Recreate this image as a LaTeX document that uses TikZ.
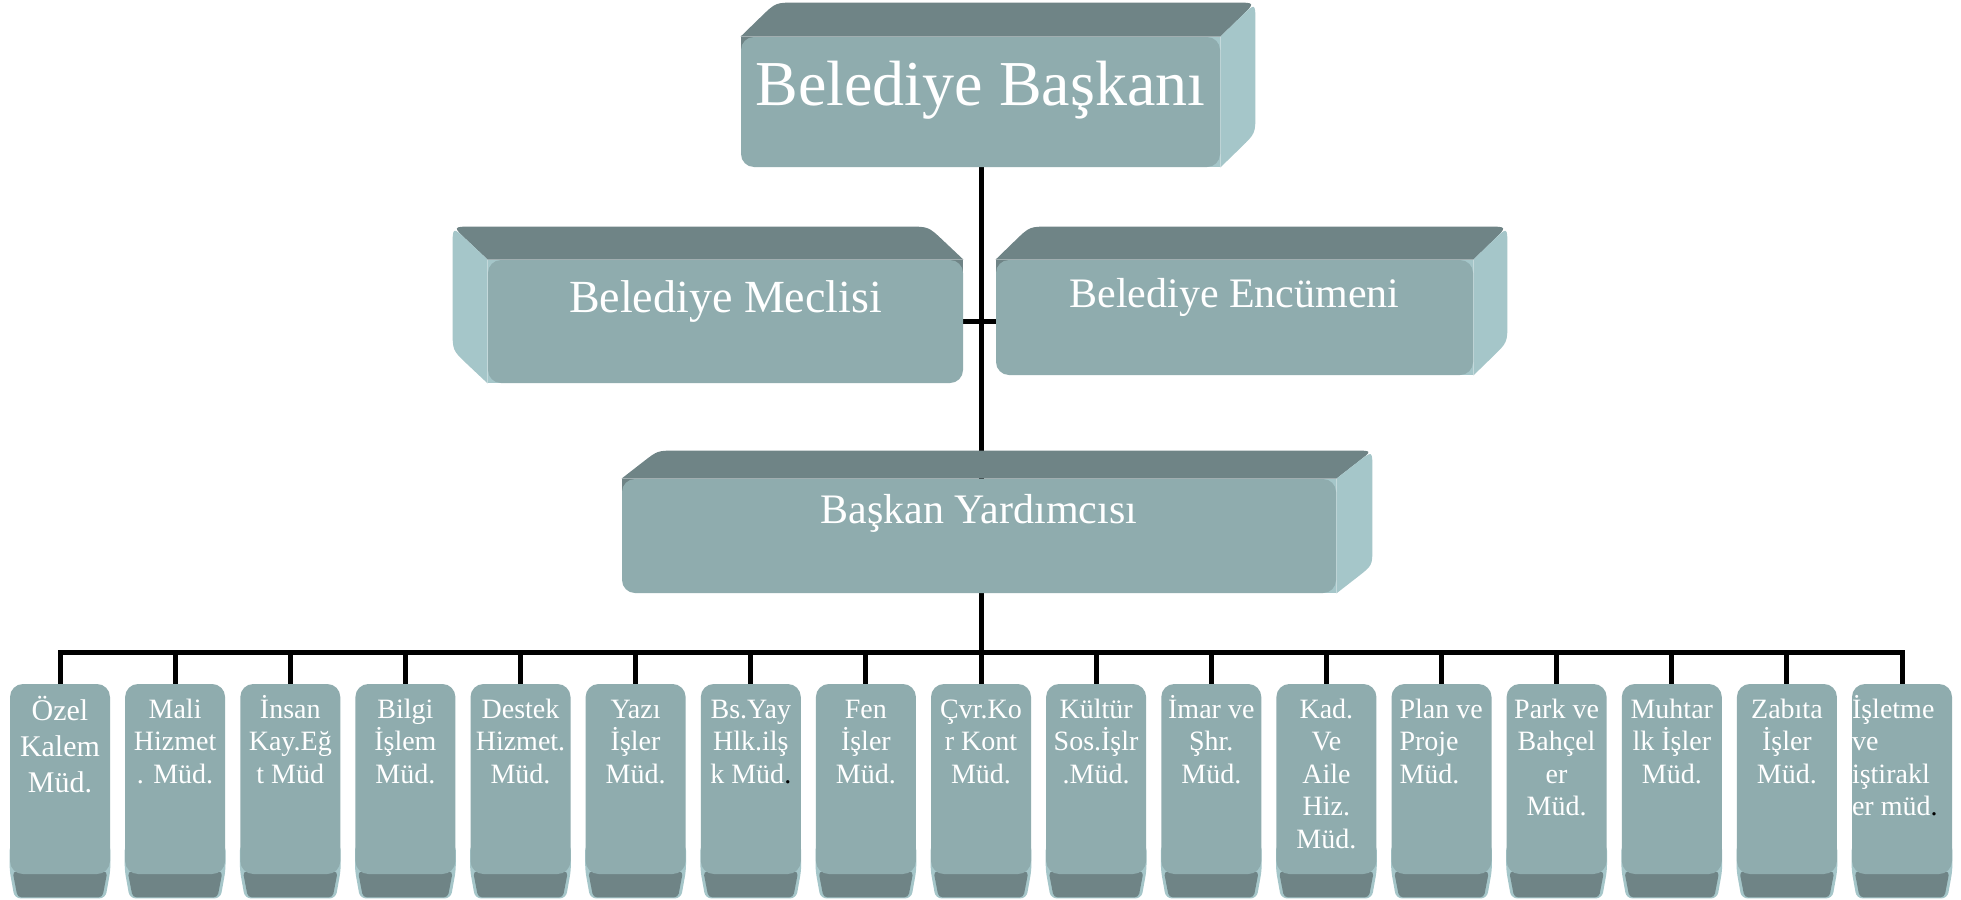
\documentclass[tikz,border=0pt]{standalone}
\usepackage{fontspec}
\setmainfont{Liberation Serif}
\usetikzlibrary{calc}
\definecolor{facec}{RGB}{143,172,174}
\definecolor{topc}{RGB}{111,132,134}
\definecolor{sidec}{RGB}{165,198,201}
\pgfdeclarelayer{bg}\pgfdeclarelayer{mid}\pgfsetlayers{bg,mid,main}
% 3D faces for a box extruded up-right: #1 node, #2 #3 offset, #4 corner size
\newcommand\myFacesR[4]{%
  \coordinate (#1-a) at ($(#1.north west)+(#2,#3)$);
  \coordinate (#1-b) at ($(#1.north east)+(#2,#3)$);
  \coordinate (#1-c) at ($(#1.south east)+(#2,#3)$);
  \fill[topc] (#1.north west) rectangle ++(14,14);
  \fill[sidec] (#1.north east) rectangle ++(-14,14);
  \fill[sidec] (#1.south east) rectangle ++(-14,-14);
  \fill[topc] (#1.north west) -- ($(#1-a)!#4!(#1.north west)$) .. controls (#1-a) .. ($(#1-a)!#4!(#1-b)$)
     -- ($(#1-b)!#4!(#1-a)$) .. controls (#1-b) .. ($(#1-b)!#4!(#1.north east)$) -- (#1.north east) -- cycle;
  \fill[sidec] (#1.north east) -- ($(#1-b)!#4!(#1.north east)$) .. controls (#1-b) .. ($(#1-b)!#4!(#1-c)$)
     -- ($(#1-c)!#4!(#1-b)$) .. controls (#1-c) .. ($(#1-c)!#4!(#1.south east)$) -- (#1.south east) -- cycle;}
% 3D faces for a box extruded up-left
\newcommand\myFacesL[4]{%
  \coordinate (#1-a) at ($(#1.north east)+(#2,#3)$);
  \coordinate (#1-b) at ($(#1.north west)+(#2,#3)$);
  \coordinate (#1-c) at ($(#1.south west)+(#2,#3)$);
  \fill[topc] (#1.north east) rectangle ++(-14,14);
  \fill[sidec] (#1.north west) rectangle ++(14,14);
  \fill[sidec] (#1.south west) rectangle ++(14,-14);
  \fill[topc] (#1.north east) -- ($(#1-a)!#4!(#1.north east)$) .. controls (#1-a) .. ($(#1-a)!#4!(#1-b)$)
     -- ($(#1-b)!#4!(#1-a)$) .. controls (#1-b) .. ($(#1-b)!#4!(#1.north west)$) -- (#1.north west) -- cycle;
  \fill[sidec] (#1.north west) -- ($(#1-b)!#4!(#1.north west)$) .. controls (#1-b) .. ($(#1-b)!#4!(#1-c)$)
     -- ($(#1-c)!#4!(#1-b)$) .. controls (#1-c) .. ($(#1-c)!#4!(#1.south west)$) -- (#1.south west) -- cycle;}
% bottom part of the small boxes
\newcommand\myBottom[1]{%
  \fill[sidec,rounded corners=3pt] ($(#1.south west)+(0,-30)$) -- ($(#1.south west)+(0,-4)$) -- ($(#1.south west)+(5,24)$) -- ($(#1.south east)+(-5,24)$) -- ($(#1.south east)+(0,-4)$) -- ($(#1.south east)+(0,-30)$) -- cycle;
  \fill[topc,rounded corners=2pt] ($(#1.south west)+(3,-3)$) -- ($(#1.south west)+(8,23)$) -- ($(#1.south east)+(-8,23)$) -- ($(#1.south east)+(-3,-3)$) -- cycle;}
\newcommand\mydir[2]{\parbox[c][95pt][t]{50pt}{\fontsize{14}{16.25}\selectfont#1\rule{0pt}{17pt}#2}}
\begin{document}
\begin{tikzpicture}[x=0.5pt,y=-0.5pt,
  boxfront/.style={fill=facec, rounded corners=6.5pt, inner sep=0pt, text=white},
  conn/.style={line width=2.5pt, black}]
\useasboundingbox (0,0) rectangle (1961,900);

% main boxes (front faces)
\node[boxfront] (bb) at (980.5,102) {\parbox[c][65pt][t]{239.5pt}{\fontsize{32}{38}\selectfont\centering\rule{0pt}{34pt}Belediye Başkanı}};
\node[boxfront] (mc) at (725.5,321.5) {\parbox[c][61.5pt][t]{237.5pt}{\fontsize{23}{27}\selectfont\centering\rule{0pt}{26pt}Belediye Meclisi}};
\node[boxfront] (en) at (1234.5,317.5) {\parbox[c][57.5pt][t]{238.5pt}{\fontsize{21}{25}\selectfont\centering\rule{0pt}{23.5pt}Belediye Encümeni}};
\node[boxfront] (by) at (979,536) {\parbox[c][57pt][t]{357pt}{\fontsize{21}{25}\selectfont\centering\rule{0pt}{22pt}Başkan Yardımcısı}};

% directorates
\node[boxfront] (d1) at (60,779) {\parbox[c][95pt][t]{50pt}{\fontsize{15}{18}\selectfont\centering\rule{0pt}{18pt}Özel\\Kalem\\Müd.}};
\node[boxfront] (d2) at (175.1,779) {\mydir{\centering}{Mali\\Hizmet\\. Müd.}};
\node[boxfront] (d3) at (290.3,779) {\mydir{\centering}{İnsan\\Kay.Eğ\\t Müd}};
\node[boxfront] (d4) at (405.4,779) {\mydir{\centering}{Bilgi\\İşlem\\Müd.}};
\node[boxfront] (d5) at (520.5,779) {\mydir{\centering}{Destek\\Hizmet.\\Müd.}};
\node[boxfront] (d6) at (635.6,779) {\mydir{\centering}{Yazı\\İşler\\Müd.}};
\node[boxfront] (d7) at (750.8,779) {\mydir{\centering}{Bs.Yay\\Hlk.ilş\\k Müd{\color{black}.}}};
\node[boxfront] (d8) at (865.9,779) {\mydir{\centering}{Fen\\İşler\\Müd.}};
\node[boxfront] (d9) at (981,779) {\mydir{\centering}{Çvr.Ko\\r Kont\\Müd.}};
\node[boxfront] (d10) at (1096.1,779) {\mydir{\centering}{Kültür\\Sos.İşlr\\.Müd.}};
\node[boxfront] (d11) at (1211.3,779) {\mydir{\centering}{İmar ve\\Şhr.\\Müd.}};
\node[boxfront] (d12) at (1326.4,779) {\mydir{\centering}{Kad.\\Ve\\Aile\\Hiz.\\Müd.}};
\node[boxfront] (d13) at (1441.5,779) {\mydir{\raggedright\leftskip=4pt\relax}{Plan ve\\Proje\\Müd.}};
\node[boxfront] (d14) at (1556.6,779) {\mydir{\centering}{Park ve\\Bahçel\\er\\Müd.}};
\node[boxfront] (d15) at (1671.8,779) {\mydir{\centering}{Muhtar\\lk İşler\\Müd.}};
\node[boxfront] (d16) at (1786.9,779) {\mydir{\centering}{Zabıta\\İşler\\Müd.}};
\node[boxfront] (d17) at (1902,779) {\mydir{\raggedright}{İşletme\\ve\\iştirakl\\er müd{\color{black}.}}};

% 3D faces
\begin{pgfonlayer}{mid}
  \myFacesR{bb}{35}{-34}{10pt}
  \myFacesL{mc}{-35}{-33}{10pt}
  \myFacesR{en}{34}{-33}{10pt}
  \myFacesR{by}{36}{-28}{9pt}
  \foreach \i in {1,...,17} {\myBottom{d\i}}
\end{pgfonlayer}

% connectors
\begin{pgfonlayer}{bg}
  \fill[white] (0,0) rectangle (1961,900);
  \coordinate (bus) at (981,652);
  \draw[conn] (bb.south -| bus) -- (bus);
  \draw[conn] (mc.east) -- (mc.east -| en.west);
  \draw[conn, line join=miter] (d1.north) -- (d1.north |- bus) -- (d17.north |- bus) -- (d17.north);
  \foreach \i in {2,...,16} {\draw[conn] (d\i.north) -- (d\i.north |- bus);}
\end{pgfonlayer}
\end{tikzpicture}
\end{document}
